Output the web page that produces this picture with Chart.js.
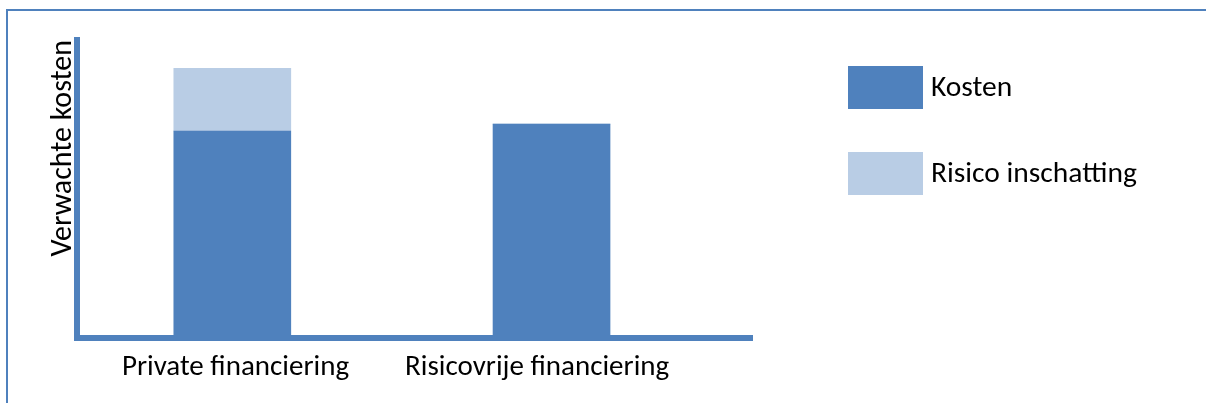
<!DOCTYPE html>
<html>
<head>
<meta charset="utf-8">
<script src="https://cdn.jsdelivr.net/npm/chart.js@4"></script>
<style>
    body { margin: 0; background: #fff; }
    #wrap { position: relative; width: 1206px; height: 403px; overflow: hidden; }
    #frame { position: absolute; left: 6px; top: 9px; width: 1300px; height: 500px; border: 2px solid #4f81bd; }
    canvas { position: absolute; left: 0; top: 0; }
</style>
</head>
<body>
<div id="wrap">
    <div id="frame"></div>
    <canvas id="kosten-chart" width="1206" height="403"></canvas>
</div>
<script>
const categories = ['Private financiering', 'Risicovrije financiering']
const kosten = [69.4, 71.7]
const risico = [21.1, 0]
const seriesNames = ['Kosten', 'Risico inschatting']
const axisTitle = 'Verwachte kosten'

const fontFamily = 'Carlito, Lato, sans-serif'
const blue = '#4f81bd'
const lightBlue = '#b9cde5'
// labels staan in het origineel niet precies onder de balk
const labelShift = [0.01, -0.045]

// legend rechts naast de grafiek, zelf getekend
const sideLegend = {
    id: 'sideLegend',
    afterDraw(chart) {
        const ctx = chart.ctx
        ctx.save()
        ctx.font = '29.5px ' + fontFamily
        ctx.textBaseline = 'middle'
        chart.data.datasets.forEach((ds, i) => {
            const top = 66 + i * 86
            ctx.fillStyle = ds.backgroundColor
            ctx.fillRect(848, top, 75, 43)
            ctx.fillStyle = '#000'
            ctx.fillText(ds.label, 931, top + 23)
        })
        ctx.restore()
    }
}

function toPoints(values) {
    return values.map((v, i) => ({ x: i, y: v }))
}

const ctx = document.getElementById('kosten-chart').getContext('2d')

new Chart(ctx, {
    type: 'bar',
    data: {
        datasets: [
            { label: seriesNames[0], data: toPoints(kosten), backgroundColor: blue },
            { label: seriesNames[1], data: toPoints(risico), backgroundColor: lightBlue }
        ]
    },
    options: {
        responsive: false,
        animation: false,
        layout: { padding: { left: 48, top: 40, right: 454, bottom: 0 } },
        datasets: { bar: { barThickness: 117 } },
        plugins: {
            legend: { display: false },
            tooltip: { enabled: false }
        },
        scales: {
            x: {
                type: 'linear',
                offset: false,
                stacked: true,
                min: -0.4865,
                max: 1.628,
                grid: { display: false, drawTicks: false },
                border: { display: true, color: blue, width: 6, z: 1 },
                ticks: {
                    autoSkip: false,
                    padding: 13,
                    color: '#000',
                    font: { family: fontFamily, size: 29 },
                    callback: (v, i) => categories[i]
                },
                afterBuildTicks: (scale) => {
                    scale.ticks = categories.map((c, i) => ({ value: i + labelShift[i] }))
                },
                afterFit: (scale) => { scale.height = 65.5 }
            },
            y: {
                stacked: true,
                min: 0,
                max: 100,
                grid: { display: false, drawTicks: false },
                border: { display: true, color: blue, width: 6, z: 1 },
                ticks: { display: false },
                title: {
                    display: true,
                    text: axisTitle,
                    align: 'end',
                    padding: 0,
                    color: '#000',
                    font: { family: fontFamily, size: 30, lineHeight: 1 }
                },
                afterFit: (scale) => { scale.width = 29 }
            }
        }
    },
    plugins: [sideLegend]
})
</script>
</body>
</html>
